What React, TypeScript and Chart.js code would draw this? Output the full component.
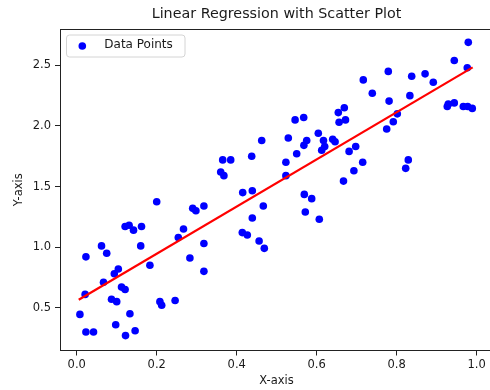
import React, { useEffect, useRef } from "react";
import { Chart, registerables } from "chart.js";

Chart.register(...registerables);

const chartTitle = "Linear Regression with Scatter Plot";
const xAxisLabel = "X-axis";
const yAxisLabel = "Y-axis";
const pointsLabel = "Data Points";
const fitLabel = "Regression Line";

const xValues = [
  0.2, 0.29, 0.298, 0.318, 0.121, 0.131, 0.142, 0.162, 0.267, 0.254,
  0.062, 0.075, 0.16, 0.318, 0.023, 0.283, 0.183, 0.104, 0.094, 0.318,
  0.067, 0.112, 0.121, 0.021, 0.087, 0.1, 0.208, 0.2125, 0.246, 0.008,
  0.133, 0.0975, 0.023, 0.042, 0.146, 0.122,
  0.669, 0.654, 0.672, 0.656, 0.546, 0.5675, 0.604, 0.617, 0.529, 0.575,
  0.568, 0.55, 0.6125, 0.62, 0.64, 0.646, 0.681, 0.4625, 0.523, 0.4375,
  0.365, 0.385, 0.36, 0.523,
  0.368, 0.667, 0.415, 0.439, 0.569, 0.5875, 0.4665, 0.439, 0.5715, 0.6065,
  0.414, 0.4265, 0.456, 0.469,
  0.979, 0.944, 0.9765, 0.779, 0.7165, 0.871, 0.8375, 0.8915, 0.739, 0.833,
  0.781, 0.9265, 0.944, 0.929, 0.9665, 0.9775, 0.989, 0.8015, 0.7915, 0.775,
  0.6975, 0.715, 0.693, 0.829, 0.8225,
];
const yValues = [
  1.375, 1.32, 1.3, 1.34, 1.17, 1.18, 1.14, 1.17, 1.15, 1.08,
  1.01, 0.95, 1.01, 1.03, 0.92, 0.91, 0.85, 0.82, 0.78, 0.8,
  0.71, 0.67, 0.65, 0.61, 0.57, 0.55, 0.55, 0.52, 0.56, 0.445,
  0.45, 0.36, 0.3, 0.3, 0.31, 0.27,
  2.15, 2.11, 2.05, 2.03, 2.05, 2.07, 1.94, 1.88, 1.9, 1.88,
  1.84, 1.77, 1.8, 1.83, 1.89, 1.87, 1.79, 1.88, 1.7, 1.75,
  1.72, 1.72, 1.62, 1.59,
  1.59, 1.545, 1.45, 1.465, 1.435, 1.4, 1.34, 1.24, 1.29, 1.23,
  1.12, 1.1, 1.05, 0.99,
  2.69, 2.54, 2.48, 2.45, 2.38, 2.43, 2.41, 2.36, 2.27, 2.25,
  2.205, 2.16, 2.19, 2.18, 2.16, 2.16, 2.145, 2.1, 2.035, 1.975,
  1.83, 1.7, 1.63, 1.72, 1.65,
];

const fitX = [0.005, 0.99];
const fitY = [0.566, 2.483];

const xTicks = [0.0, 0.2, 0.4, 0.6, 0.8, 1.0];
const yTicks = [0.5, 1.0, 1.5, 2.0, 2.5];
const xRange = [-0.0418, 1.0408];
const yRange = [0.147, 2.8];

const FONT = "'DejaVu Sans', sans-serif";
const TEXT = "#1a1a1a";
const SPINE = "#222222";

const decorPlugin = {
  id: "decor",
  afterDraw(chart: any) {
    const { ctx, chartArea } = chart;
    const { left, right, top, bottom } = chartArea;
    ctx.save();
    // frame (top and right spines)
    ctx.strokeStyle = SPINE;
    ctx.lineWidth = 1;
    ctx.beginPath();
    ctx.moveTo(left, top + 0.5);
    ctx.lineTo(right, top + 0.5);
    ctx.moveTo(right - 0.5, top);
    ctx.lineTo(right - 0.5, bottom);
    ctx.stroke();

    // title
    ctx.fillStyle = TEXT;
    ctx.font = `14.3px ${FONT}`;
    ctx.textAlign = "center";
    ctx.textBaseline = "middle";
    ctx.fillText(chartTitle, (left + right) / 2, 14.5);

    // legend
    const ds = chart.data.datasets[0];
    ctx.font = `12px ${FONT}`;
    const tw = ctx.measureText(ds.label).width;
    const bx = left + 6;
    const by = top + 5.5;
    const bw = 44 + tw + 6;
    const bh = 22;
    ctx.beginPath();
    ctx.roundRect(bx + 0.5, by + 0.5, bw, bh, 3);
    ctx.fillStyle = "rgba(255,255,255,0.8)";
    ctx.fill();
    ctx.strokeStyle = "#d4d4d4";
    ctx.stroke();
    ctx.beginPath();
    ctx.arc(bx + 16.3, by + 11.5, 3.8, 0, Math.PI * 2);
    ctx.fillStyle = ds.backgroundColor;
    ctx.fill();
    ctx.fillStyle = TEXT;
    ctx.textAlign = "left";
    ctx.textBaseline = "middle";
    ctx.fillText(ds.label, bx + 38.3, by + 10.5);
    ctx.restore();
  },
};

export default function App() {
  const canvasRef = useRef<HTMLCanvasElement | null>(null);

  useEffect(() => {
    const canvas = canvasRef.current;
    if (!canvas) return;
    const points = xValues.map((x, i) => ({ x, y: yValues[i] }));
    const line = fitX.map((x, i) => ({ x, y: fitY[i] }));

    const chart = new Chart(canvas, {
      type: "scatter",
      data: {
        datasets: [
          {
            label: pointsLabel,
            data: points,
            backgroundColor: "#0000ff",
            borderColor: "#0000ff",
            pointRadius: 3.8,
            pointBorderWidth: 0,
            order: 1,
          },
          {
            type: "line",
            label: fitLabel,
            data: line,
            borderColor: "#ff0000",
            backgroundColor: "#ff0000",
            borderWidth: 2.2,
            pointRadius: 0,
            showLine: true,
            fill: false,
            order: 0,
          } as any,
        ],
      },
      options: {
        animation: false,
        responsive: false,
        devicePixelRatio: 1,
        layout: { padding: { left: 0, top: 29, right: 7, bottom: 0 } },
        plugins: {
          legend: { display: false },
          title: { display: false },
          tooltip: { enabled: false },
        },
        scales: {
          x: {
            type: "linear",
            min: xRange[0],
            max: xRange[1],
            afterBuildTicks: (scale: any) => {
              scale.ticks = xTicks.map((value) => ({ value }));
            },
            afterFit: (scale: any) => {
              scale.height = 39.5;
            },
            ticks: {
              autoSkip: false,
              maxRotation: 0,
              padding: 3,
              color: TEXT,
              font: { family: FONT, size: 11.5 },
              callback: (v: any) => Number(v).toFixed(1),
            },
            grid: {
              drawOnChartArea: false,
              drawTicks: true,
              tickLength: 5,
              color: SPINE,
            },
            border: { display: true, color: SPINE, width: 1 },
            title: {
              display: true,
              text: xAxisLabel,
              color: TEXT,
              font: { family: FONT, size: 11.5 },
              padding: { top: 0, bottom: 2.5 },
            },
          },
          y: {
            type: "linear",
            min: yRange[0],
            max: yRange[1],
            afterBuildTicks: (scale: any) => {
              scale.ticks = yTicks.map((value) => ({ value }));
            },
            afterFit: (scale: any) => {
              scale.width = 60;
            },
            ticks: {
              autoSkip: false,
              padding: 4,
              color: TEXT,
              font: { family: FONT, size: 11.5 },
              callback: (v: any) => Number(v).toFixed(1),
            },
            grid: {
              drawOnChartArea: false,
              drawTicks: true,
              tickLength: 5,
              color: SPINE,
            },
            border: { display: true, color: SPINE, width: 1 },
            title: {
              display: true,
              text: yAxisLabel,
              color: TEXT,
              font: { family: FONT, size: 11.5 },
              padding: { top: 12.5, bottom: 0 },
            },
          },
        },
      },
      plugins: [decorPlugin],
    });
    return () => chart.destroy();
  }, []);

  return (
    <div
      style={{
        position: "fixed",
        left: 0,
        top: 0,
        width: 490,
        height: 390,
        overflow: "hidden",
        background: "#ffffff",
      }}
    >
      <canvas
        ref={canvasRef}
        width={500}
        height={390}
        style={{ width: 500, height: 390, display: "block" }}
      />
    </div>
  );
}
